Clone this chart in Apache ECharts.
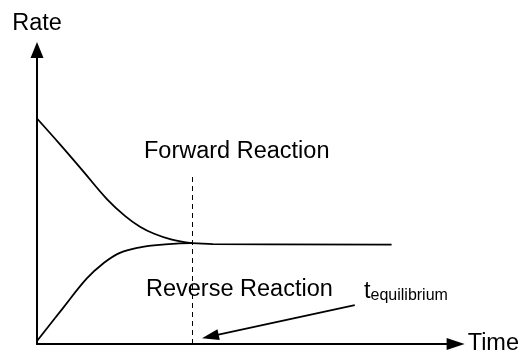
<!DOCTYPE html>
<html>
<head>
<meta charset="utf-8">
<script src="https://cdn.jsdelivr.net/npm/echarts@6/dist/echarts.min.js"></script>
<style>
  html, body { margin: 0; padding: 0; background: #fff; }
  #chart { width: 522px; height: 356px; }
</style>
</head>
<body>
<div id="chart"></div>
<script>
  // time axis 0..100, rate axis 0..100 (arbitrary units)
  var forwardX = [0, 5.5, 11.0, 16.7, 21.0, 24.6, 28.0, 32.0, 37.0];
  var forwardY = [76.7, 67.9, 58.8, 49.3, 43.6, 39.9, 37.5, 35.6, 34.3];
  var reverseX = [0, 6.2, 11.9, 15.8, 19.8, 24.6, 30.0, 37.0, 42.0, 84.7];
  var reverseY = [1.0, 12.2, 22.3, 27.4, 31.0, 32.9, 33.8, 34.3, 34.0, 33.8];
  var tEq = 37.0;
  var dashedTop = 57.1;
  // pointer arrow from label to t equilibrium
  var pointerFrom = [75.9, 13.2];
  var pointerTo = [41.4, 2.6];

  function pairs(xs, ys) {
    var out = [];
    for (var i = 0; i < xs.length; i++) out.push([xs[i], ys[i]]);
    return out;
  }

  var font = 'Liberation Sans, Arial, sans-serif';
  var chart = echarts.init(document.getElementById('chart'));

  var option = {
    animation: false,
    backgroundColor: '#fff',
    grid: { left: 37, right: 66, top: 50, bottom: 10 },
    xAxis: {
      type: 'value',
      min: 0, max: 100,
      name: 'Time',
      nameLocation: 'end',
      nameGap: 12,
      nameTextStyle: { color: '#000', fontSize: 23.5, fontFamily: font },
      axisLine: { show: true, symbol: ['none', 'triangle'], symbolSize: [12, 18],
        lineStyle: { color: '#000', width: 2 } },
      axisTick: { show: false },
      axisLabel: { show: false },
      splitLine: { show: false }
    },
    yAxis: {
      type: 'value',
      min: 0, max: 100,
      name: 'Rate',
      nameLocation: 'end',
      nameGap: 14,
      nameTextStyle: { color: '#000', fontSize: 23.5, fontFamily: font, align: 'center' },
      axisLine: { show: true, symbol: ['none', 'triangle'], symbolSize: [13, 16],
        lineStyle: { color: '#000', width: 2 } },
      axisTick: { show: false },
      axisLabel: { show: false },
      splitLine: { show: false }
    },
    series: [
      {
        name: 'Forward',
        type: 'line',
        smooth: 0.4,
        symbol: 'none',
        data: pairs(forwardX, forwardY),
        lineStyle: { color: '#000', width: 1.8 }
      },
      {
        name: 'Reverse',
        type: 'line',
        smooth: 0.4,
        symbol: 'none',
        data: pairs(reverseX, reverseY),
        lineStyle: { color: '#000', width: 1.8 },
        markLine: {
          silent: true,
          label: { show: false },
          data: [
            [
              { coord: [tEq, 0], symbol: 'none', lineStyle: { type: [5, 4], width: 1, color: '#000' } },
              { coord: [tEq, dashedTop], symbol: 'none' }
            ],
            [
              { coord: pointerFrom, symbol: 'none', lineStyle: { type: 'solid', width: 1.8, color: '#000' } },
              { coord: pointerTo, symbol: 'triangle', symbolSize: [11, 17] }
            ]
          ]
        }
      }
    ],
    graphic: [
      {
        type: 'text', left: 144, top: 140,
        style: { text: 'Forward Reaction', fill: '#000', font: '23.5px ' + font }
      },
      {
        type: 'text', left: 146, top: 278,
        style: { text: 'Reverse Reaction', fill: '#000', font: '23.5px ' + font }
      },
      {
        type: 'text', left: 364, top: 280,
        style: {
          text: '{t|t}{s|equilibrium}',
          rich: {
            t: { fontSize: 23.5, fontFamily: font, fill: '#000', verticalAlign: 'bottom', lineHeight: 26 },
            s: { fontSize: 16, fontFamily: font, fill: '#000', verticalAlign: 'bottom', lineHeight: 20 }
          }
        }
      }
    ]
  };

  chart.setOption(option);
</script>
</body>
</html>
